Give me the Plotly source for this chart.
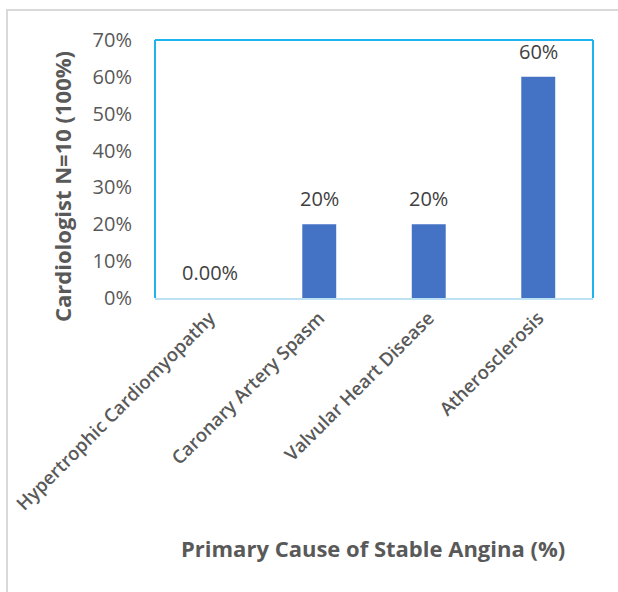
import plotly.graph_objects as go

causes = ["Hypertrophic Cardiomyopathy", "Caronary Artery Spasm",
          "Valvular Heart Disease", "Atherosclerosis"]
shares = [0.0, 20, 20, 60]
share_labels = ["0.00%", "20%", "20%", "60%"]
y_ticks = [0, 10, 20, 30, 40, 50, 60, 70]
y_tick_labels = ["0%", "10%", "20%", "30%", "40%", "50%", "60%", "70%"]

FONT = "Open Sans"
W, H = 618, 592
L, R, T, B = 155, 25, 40, 294
pw, ph = W - L - R, H - T - B

fig = go.Figure(go.Bar(
    x=causes, y=shares, width=0.31,
    marker=dict(color="#4472C4", line=dict(width=0)),
))

def px(x):
    return (x - L) / pw

def py(y):
    return (H - B - y) / ph

shapes = [
    # outer chart frame
    dict(type="rect", xref="paper", yref="paper", x0=px(7), x1=px(900),
         y0=py(900), y1=py(10), line=dict(color="#D9D9D9", width=2)),
    # plot-area border (left, top, right)
    dict(type="line", xref="paper", yref="paper", x0=0, x1=0, y0=0, y1=1,
         line=dict(color="#1FB4F0", width=2)),
    dict(type="line", xref="paper", yref="paper", x0=0, x1=1, y0=1, y1=1,
         line=dict(color="#1FB4F0", width=2)),
    dict(type="line", xref="paper", yref="paper", x0=1, x1=1, y0=0, y1=1,
         line=dict(color="#1FB4F0", width=2)),
]

# value labels above each bar
annotations = [
    dict(text=lab, x=c, y=v, xref="x", yref="y", showarrow=False,
         xanchor="center", yanchor="bottom", yshift=10,
         font=dict(family=FONT, size=20, color="#404040"))
    for c, v, lab in zip(causes, shares, share_labels)
]

annotations += [
    dict(text="Primary Cause of Stable Angina (%)", xref="paper", yref="paper",
         x=px(373), y=py(548), showarrow=False, xanchor="center", yanchor="middle",
         font=dict(family=FONT, size=22, color="#595959", weight="bold")),
    dict(text="Cardiologist N=10 (100%)", xref="paper", yref="paper",
         x=px(62), y=py(187), showarrow=False, xanchor="center", yanchor="middle",
         textangle=-90,
         font=dict(family=FONT, size=22, color="#595959", weight="bold")),
]

fig.update_layout(
    width=W, height=H,
    margin=dict(l=L, r=R, t=T, b=B, autoexpand=False),
    paper_bgcolor="white", plot_bgcolor="white",
    showlegend=False, shapes=shapes, annotations=annotations,
    font=dict(family=FONT, color="#595959"),
    xaxis=dict(
        automargin=False,
        showline=True, linecolor="#BDE2F4", linewidth=2,
        tickangle=-45, ticks="",
        tickfont=dict(family=FONT, size=18.5, color="#595959", weight=600),
    ),
    yaxis=dict(
        automargin=False,
        range=[0, 70], tickvals=y_ticks, ticktext=y_tick_labels,
        showgrid=False, zeroline=False, showline=False, ticks="",
        tickfont=dict(family=FONT, size=20, color="#595959"),
        ticklabelstandoff=22,
    ),
)

fig.write_html("out.html")
